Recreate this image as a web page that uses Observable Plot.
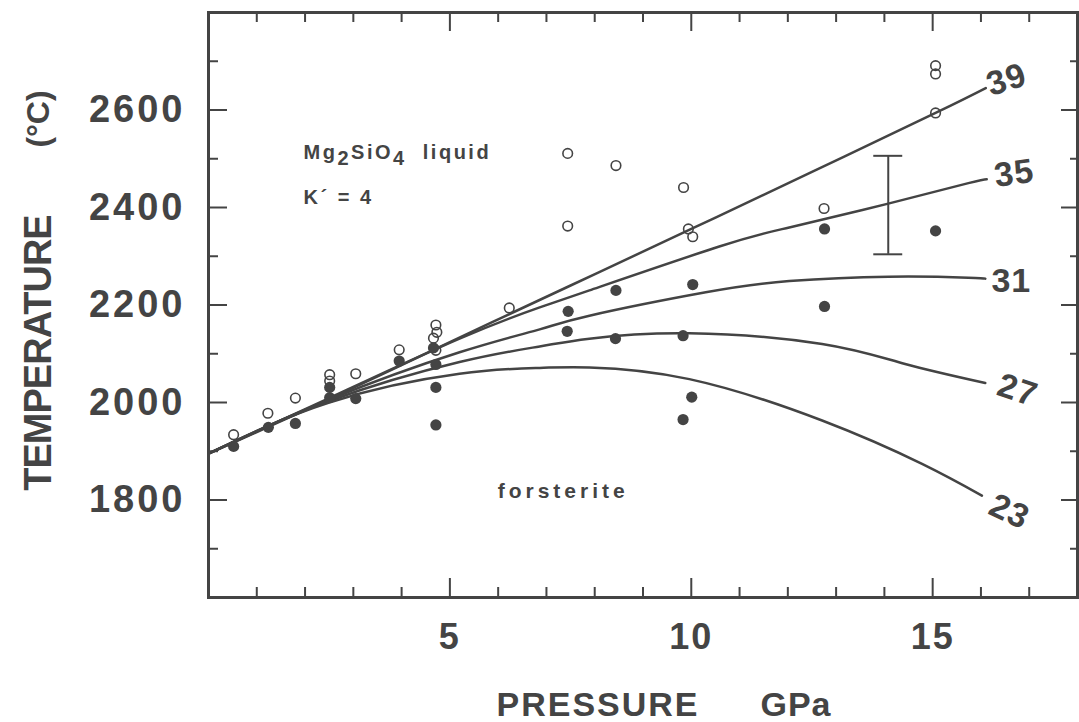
<!DOCTYPE html>
<html><head><meta charset="utf-8">
<script src="https://cdn.jsdelivr.net/npm/d3@7"></script>
<script src="https://cdn.jsdelivr.net/npm/@observablehq/plot@0.6"></script>
<style>
html,body{margin:0;padding:0;background:#fff;}
#chart svg{display:block;}
</style></head><body><div id="chart"></div>
<script>
// ---- data ----
const openP = [0.52, 1.23, 1.80, 2.51, 2.51, 3.05, 3.95, 4.71, 4.73, 4.66, 4.71, 6.23, 7.44, 8.44, 9.84, 7.44, 9.94, 10.03, 12.75, 15.06, 15.06, 15.06];
const openT = [1934, 1978, 2009, 2057, 2044, 2059, 2108, 2159, 2144, 2132, 2107, 2194, 2511, 2486, 2441, 2362, 2356, 2340, 2398, 2691, 2674, 2594];
const filledP = [0.52, 1.24, 1.80, 2.51, 2.51, 3.05, 3.95, 4.66, 4.71, 4.71, 4.71, 8.44, 10.03, 7.45, 7.43, 8.43, 9.83, 10.01, 9.83, 12.76, 15.06, 12.76];
const filledT = [1910, 1949, 1957, 2031, 2010, 2008, 2085, 2112, 2078, 2031, 1954, 2230, 2242, 2187, 2146, 2131, 2137, 2011, 1965, 2356, 2352, 2197];

const curve39 = [[0,1895],[2.5,2007],[5,2124],[7.5,2240],[10,2356],[12.5,2473],[15.06,2594],[16.1,2645]];
const curve35 = [[0,1895],[2.5,2009],[5.2,2131],[6.86,2195],[7.89,2230],[10.58,2320],[12.03,2359],[14.08,2408],[15.74,2450],[16.12,2458]];
const curve31 = [[0,1895],[2.5,2006],[5.2,2103],[6.86,2150],[7.89,2178],[10.3,2226],[12.03,2249],[14.09,2258],[15.74,2256],[16.09,2254]];
const curve27 = [[0,1895],[2.5,2003],[5.2,2083],[6.86,2115],[7.89,2131],[9.96,2142],[12.71,2120],[14.43,2079],[16.09,2040]];
const curve23 = [[0,1895],[2.5,2000],[5.2,2059],[6.86,2071],[7.89,2072],[9.96,2048],[12.71,1963],[14.78,1874],[16.02,1809]];

const curveNames = ["39", "35", "31", "27", "23"];
const curveLabelP = [16.53, 16.69, 16.63, 16.76, 16.59];
const curveLabelT = [2662, 2470, 2248, 2025, 1776];
const curveLabelAngle = [-18, -8, 0, 18, 25];

const errP = [14.08];
const errLo = [2304];
const errHi = [2506];
const errHalfWidth = 0.3;

const xMajor = [5, 10, 15];
const xMinor = [1, 2, 3, 4, 6, 7, 8, 9, 11, 12, 13, 14, 16, 17];
const yMajor = [1800, 2000, 2200, 2400, 2600];
const yMinor = [1700, 1900, 2100, 2300, 2500, 2700];

const notes = ["Mg2SiO4 liquid", "K\u00B4 = 4", "forsterite"];
const noteP = [1.97, 1.97, 5.99];
const noteT = [2513, 2420, 1817];

// ---- layout ----
const W = 1079, H = 722, mL = 208, mR = 2, mT = 12, mB = 125;
const innerW = W - mL - mR, innerH = H - mT - mB;
const ink = "#444";
const font = "'Liberation Sans', Arial, Helvetica, sans-serif";

const curves = [curve39, curve35, curve31, curve27, curve23];
const curveRows = curves.flatMap((pts, i) => pts.map(([p, t]) => ({name: curveNames[i], p, t})));
const openRows = openP.map((p, i) => ({p, t: openT[i]}));
const filledRows = filledP.map((p, i) => ({p, t: filledT[i]}));
const labelRows = curveNames.map((n, i) => ({n, p: curveLabelP[i], t: curveLabelT[i], a: curveLabelAngle[i]}));
const errRows = errP.map((p, i) => ({p, lo: errLo[i], hi: errHi[i]}));
const capRows = errRows.flatMap(d => [{t: d.lo, x1: d.p - errHalfWidth, x2: d.p + errHalfWidth}, {t: d.hi, x1: d.p - errHalfWidth, x2: d.p + errHalfWidth}]);
const noteRows = notes.map((s, i) => ({s, p: noteP[i], t: noteT[i]}));

const tickStyle = {stroke: ink, strokeWidth: 2};
const minorLen = 10, majorLen = 19;
const bold = {fontWeight: "bold", fill: ink};

const chart = Plot.plot({
  width: W, height: H,
  marginLeft: mL, marginRight: mR, marginTop: mT, marginBottom: mB,
  x: {domain: [0, 18], axis: null},
  y: {domain: [1600, 2800], axis: null},
  style: {fontFamily: font, background: "#fff", color: ink},
  marks: [
    // ticks (inward on all four sides)
    Plot.tickX(xMinor, {x: d => d, insetTop: innerH - minorLen, ...tickStyle}),
    Plot.tickX(xMajor, {x: d => d, insetTop: innerH - majorLen, ...tickStyle}),
    Plot.tickX(xMinor, {x: d => d, insetBottom: innerH - minorLen, ...tickStyle}),
    Plot.tickX(xMajor, {x: d => d, insetBottom: innerH - majorLen, ...tickStyle}),
    Plot.tickY(yMinor, {y: d => d, insetRight: innerW - minorLen, ...tickStyle}),
    Plot.tickY(yMajor, {y: d => d, insetRight: innerW - majorLen, ...tickStyle}),
    Plot.tickY(yMinor, {y: d => d, insetLeft: innerW - minorLen + 3, ...tickStyle}),
    Plot.tickY(yMajor, {y: d => d, insetLeft: innerW - majorLen + 3, ...tickStyle}),
    // curves
    Plot.line(curveRows, {x: "p", y: "t", z: "name", curve: "natural", stroke: ink, strokeWidth: 2.5}),
    // error bar
    Plot.ruleX(errRows, {x: "p", y1: "lo", y2: "hi", stroke: ink, strokeWidth: 2}),
    Plot.ruleY(capRows, {y: "t", x1: "x1", x2: "x2", stroke: ink, strokeWidth: 2}),
    // data points
    Plot.dot(openRows, {x: "p", y: "t", r: 4.8, stroke: ink, strokeWidth: 1.6, fill: "none"}),
    Plot.dot(filledRows, {x: "p", y: "t", r: 5.6, fill: ink, stroke: "none"}),
    // curve labels
    Plot.text(labelRows, {x: "p", y: "t", text: "n", rotate: "a", fontSize: 34, ...bold}),
    // annotations
    Plot.text(noteRows.slice(0, 2), {x: "p", y: "t", text: "s", textAnchor: "start", fontSize: 20, ...bold}),
    Plot.text(noteRows.slice(2), {x: "p", y: "t", text: "s", textAnchor: "start", fontSize: 21, ...bold}),
    // tick labels
    Plot.text(xMajor, {x: d => d, text: d => String(d), frameAnchor: "bottom", lineAnchor: "middle", textAnchor: "middle", dy: 40, fontSize: 36, ...bold}),
    Plot.text(yMajor, {y: d => d, text: d => String(d), frameAnchor: "left", lineAnchor: "middle", textAnchor: "end", dx: -23, fontSize: 38, ...bold}),
    // axis titles
    Plot.text(["PRESSURE"], {frameAnchor: "bottom", lineAnchor: "middle", textAnchor: "middle", dx: -45, dy: 108, fontSize: 34, ...bold}),
    Plot.text(["GPa"], {frameAnchor: "bottom", lineAnchor: "middle", textAnchor: "middle", dx: 153, dy: 108, fontSize: 34, ...bold}),
    Plot.text(["TEMPERATURE"], {frameAnchor: "left", lineAnchor: "middle", textAnchor: "middle", dx: -170, dy: 48, rotate: -90, fontSize: 38, ...bold}),
    Plot.text(["(\u00B0C)"], {frameAnchor: "left", lineAnchor: "middle", textAnchor: "middle", dx: -170, dy: -186, rotate: -90, fontSize: 32, ...bold}),
    Plot.frame({stroke: ink, strokeWidth: 3})
  ]
});

const svg = d3.select(chart);
const spacingByText = new Map([
  ...yMajor.map(v => [String(v), "3px"]),
  ...xMajor.map(v => [String(v), "2px"]),
  ["PRESSURE", "2px"], ["GPa", "1px"], ["TEMPERATURE", "-1px"],
  ...curveNames.map(n => [n, "1px"]),
  ["Mg2SiO4 liquid", "2.5px"], ["K\u00B4 = 4", "2.5px"], ["forsterite", "4px"]
]);
svg.selectAll("text").each(function() {
  const s = spacingByText.get(this.textContent);
  if (s) d3.select(this).style("letter-spacing", s);
});

// subscripts in Mg2SiO4
svg.selectAll("text").filter(function() { return this.textContent === "Mg2SiO4 liquid"; }).each(function() {
  const t = d3.select(this);
  t.text(null);
  t.append("tspan").text("Mg");
  t.append("tspan").attr("dy", 6).text("2");
  t.append("tspan").attr("dy", -6).text("SiO");
  t.append("tspan").attr("dy", 6).text("4");
  t.append("tspan").attr("dy", -6).text("\u00A0\u00A0liquid");
});

document.getElementById("chart").append(chart);
</script>
</body></html>
